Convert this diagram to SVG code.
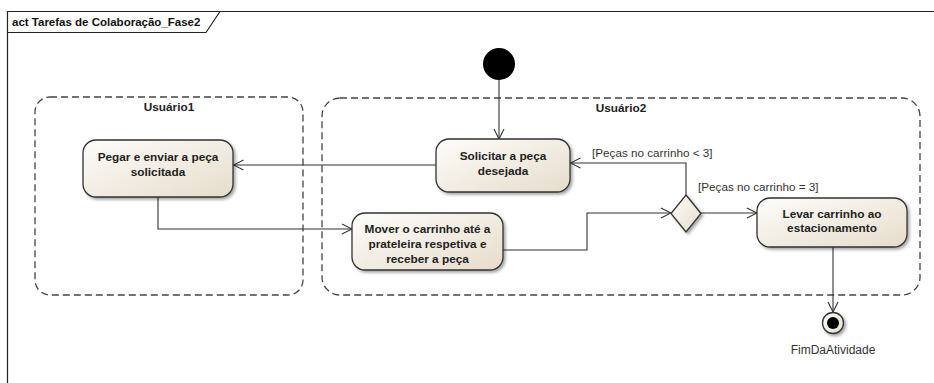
<svg xmlns="http://www.w3.org/2000/svg" width="934" height="383" viewBox="0 0 934 383">
<defs>
<linearGradient id="g" x1="0" y1="0" x2="1" y2="1">
<stop offset="0" stop-color="#fefdfb"/>
<stop offset="1" stop-color="#e6dccb"/>
</linearGradient>
<filter id="sh" x="-10%" y="-10%" width="130%" height="140%">
<feGaussianBlur in="SourceAlpha" stdDeviation="1.5"/>
<feOffset dx="2" dy="2" result="b"/>
<feComponentTransfer><feFuncA type="linear" slope="0.35"/></feComponentTransfer>
<feMerge><feMergeNode/><feMergeNode in="SourceGraphic"/></feMerge>
</filter>
<marker id="arr" viewBox="0 0 12 12" refX="11" refY="6" markerWidth="12" markerHeight="12" markerUnits="userSpaceOnUse" orient="auto">
<path d="M1,1 L11,6 L1,11" fill="none" stroke="#333" stroke-width="1.1"/>
</marker>
</defs>
<style>
.frame{fill:none;stroke:#222;stroke-width:1.2}
.lane{fill:none;stroke:#444;stroke-width:1.3;stroke-dasharray:7 4}
.node{fill:url(#g);stroke:#333;stroke-width:1.3;filter:url(#sh)}
.t{font-family:"Liberation Sans",Arial,sans-serif;font-size:11.8px;font-weight:bold;fill:#222;text-anchor:middle}
.title{font-family:"Liberation Sans",Arial,sans-serif;font-size:11.5px;font-weight:bold;fill:#111}
.g{font-family:"Liberation Sans",Arial,sans-serif;font-size:11.7px;fill:#333}
.c{fill:none;stroke:#333;stroke-width:1.1;marker-end:url(#arr)}
</style>
<rect width="934" height="383" fill="#fff"/>
<g id="frame">
<path class="frame" d="M7.5,383 V11.5 H934"/>
<path class="frame" d="M7.5,32.5 H206 L220,11.5"/>
<text class="title" x="12" y="26">act Tarefas de Colaboração_Fase2</text>
</g>
<g id="lane-usuario1">
<rect class="lane" x="35" y="97" width="268" height="198" rx="15"/>
<text class="t" x="169" y="111">Usuário1</text>
</g>
<g id="lane-usuario2">
<rect class="lane" x="322" y="98" width="598" height="197" rx="18"/>
<text class="t" x="621" y="112">Usuário2</text>
</g>
<g id="connectors">
<path class="c" d="M499,80 V139"/>
<path class="c" d="M436,165 H233.5"/>
<path class="c" d="M158,197 V229 H352"/>
<path class="c" d="M503,250 H587 V213 H671"/>
<path class="c" d="M686,195 V163 H570.5"/>
<path class="c" d="M701,213 H757"/>
<path class="c" d="M833,247 V312"/>
<text class="g" x="592" y="157">[Peças no carrinho &lt; 3]</text>
<text class="g" x="698" y="191">[Peças no carrinho = 3]</text>
</g>
<g id="inicio">
<circle cx="499" cy="64" r="16" fill="#000"/>
</g>
<g id="pegar">
<rect class="node" x="83" y="140" width="150" height="57" rx="13"/>
<text class="t" x="158" y="161">Pegar e enviar a peça</text>
<text class="t" x="158" y="176">solicitada</text>
</g>
<g id="solicitar">
<rect class="node" x="436" y="139" width="134" height="53" rx="13"/>
<text class="t" x="503" y="160">Solicitar a peça</text>
<text class="t" x="503" y="175">desejada</text>
</g>
<g id="mover">
<rect class="node" x="352" y="213" width="151" height="57" rx="13"/>
<text class="t" x="427.5" y="233">Mover o carrinho até a</text>
<text class="t" x="427.5" y="248">prateleira respetiva e</text>
<text class="t" x="427.5" y="263">receber a peça</text>
</g>
<g id="decisao">
<path class="node" d="M686,195 L701,213.5 L686,232 L671,213.5 Z"/>
</g>
<g id="levar">
<rect class="node" x="757" y="198" width="150" height="49" rx="13"/>
<text class="t" x="832" y="218">Levar carrinho ao</text>
<text class="t" x="832" y="232">estacionamento</text>
</g>
<g id="fim">
<circle cx="833" cy="323" r="10.5" fill="url(#g)" stroke="#333" stroke-width="1.3" filter="url(#sh)"/>
<circle cx="833" cy="323" r="6" fill="#000"/>
<text class="g" x="833" y="354" text-anchor="middle" style="font-size:12px">FimDaAtividade</text>
</g>
</svg>
